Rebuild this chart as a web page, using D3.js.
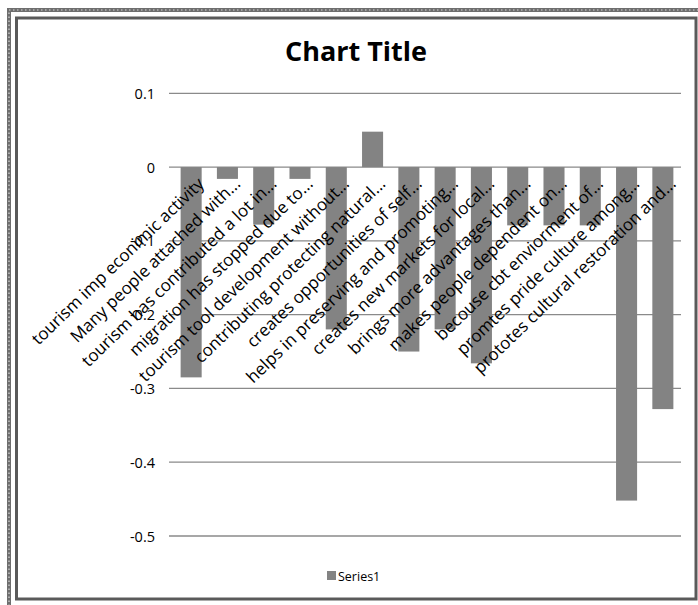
<!DOCTYPE html>
<html><head><meta charset="utf-8">
<script src="https://cdn.jsdelivr.net/npm/d3@7"></script>
<style>body{margin:0;background:#fff}svg{display:block}</style>
</head><body>
<script>
const categories = [
  "tourism imp econimic activity",
  "Many people attached with...",
  "tourism has contributed a lot in...",
  "migration has stopped due to...",
  "tourism tool development without...",
  "contributing protecting natural...",
  "creates opportunities of self...",
  "helps in preserving and promoting...",
  "creates new markets for local...",
  "brings more advantages than...",
  "makes people dependent on...",
  "becouse cbt enviorment of...",
  "promtes pride culture among...",
  "prototes cultural restoration and..."
];
const series1 = [-0.285, -0.016, -0.078, -0.016, -0.22, 0.048, -0.25, -0.22, -0.266, -0.079, -0.079, -0.079, -0.452, -0.328];
const yTicks = [0.1, 0, -0.1, -0.2, -0.3, -0.4, -0.5];
const seriesName = "Series1";
const title = "Chart Title";

const W = 698, H = 605;
const svg = d3.select("body").append("svg").attr("width", W).attr("height", H);
const font = "'Open Sans', sans-serif";

// frames
svg.append("rect").attr("x", 9).attr("y", 10).attr("width", 700).attr("height", 600)
  .attr("fill", "none").attr("stroke", "#6e6e6e").attr("stroke-width", 4);
svg.append("rect").attr("x", 9).attr("y", 10).attr("width", 700).attr("height", 600)
  .attr("fill", "none").attr("stroke", "#d8d8d8").attr("stroke-width", 1.2).attr("stroke-dasharray", "1.5,2.5");
svg.append("rect").attr("x", 16.5).attr("y", 18).attr("width", 679.5).attr("height", 581)
  .attr("fill", "#fff").attr("stroke", "#5a5a5a").attr("stroke-width", 3);

const x = d3.scaleBand().domain(categories).range([173, 681]).paddingInner(0.42).paddingOuter(0.21);
const y = d3.scaleLinear().domain([-0.5, 0.1]).range([536, 93.3]);

// gridlines
svg.append("g").selectAll("line").data(yTicks).join("line")
  .attr("x1", 169).attr("x2", 681)
  .attr("y1", d => y(d)).attr("y2", d => y(d))
  .attr("stroke", "#8a8a8a").attr("stroke-width", 1.3);

// y axis labels
const yAxis = d3.axisLeft(y).tickValues(yTicks).tickSize(0).tickPadding(0)
  .tickFormat(d => d === 0 ? "0" : String(+d.toFixed(1)));
const gy = svg.append("g").attr("transform", "translate(155,0)").call(yAxis);
gy.select(".domain").remove();
gy.selectAll("text").attr("font-family", font).attr("font-size", 14.5).attr("fill", "#000").attr("dy", "0.35em");

// bars
svg.append("g").selectAll("rect").data(series1).join("rect")
  .attr("x", (d, i) => x(categories[i]))
  .attr("width", x.bandwidth())
  .attr("y", d => y(Math.max(0, d)))
  .attr("height", d => Math.abs(y(d) - y(0)))
  .attr("fill", "#838383");

// category labels
const xAxis = d3.axisBottom(x).tickSize(0).tickPadding(0);
const gx = svg.append("g").call(xAxis);
gx.select(".domain").remove();
gx.selectAll(".tick").attr("transform", null);
gx.selectAll(".tick text")
  .attr("font-family", font).attr("font-size", 17).attr("fill", "#000")
  .attr("text-anchor", "end").attr("dy", null).attr("y", null)
  .attr("transform", d => `translate(${x(d) + x.bandwidth() / 2 + 14},185) rotate(-44)`);

// title
svg.append("text").attr("x", 356).attr("y", 61).attr("text-anchor", "middle")
  .attr("font-family", font).attr("font-weight", "bold").attr("font-size", 27)
  .attr("fill", "#000").text(title);

// legend
const lg = svg.append("g").attr("transform", "translate(327,571)");
lg.append("rect").attr("width", 9).attr("height", 9).attr("fill", "#838383");
lg.append("text").attr("x", 11).attr("y", 9.5).attr("font-family", font).attr("font-size", 12.5)
  .attr("fill", "#000").text(seriesName);
</script>
</body></html>
